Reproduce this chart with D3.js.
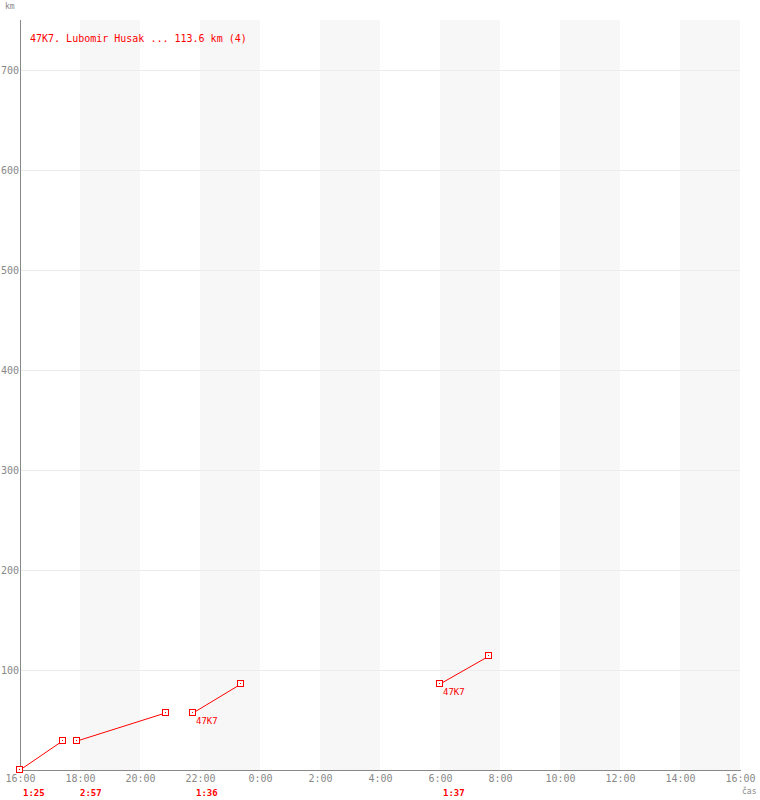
<!DOCTYPE html>
<html><head><meta charset="utf-8">
<script src="https://cdn.jsdelivr.net/npm/d3@7"></script>
<style>body{margin:0;background:#fff}svg{display:block}</style>
</head><body>
<script>
const title = "47K7. Lubomir Husak ... 113.6 km (4)";
const segStart = ["2020-01-01T16:00","2020-01-01T17:54","2020-01-01T21:46","2020-01-02T06:00"];
const segEnd   = ["2020-01-01T17:25","2020-01-01T20:51","2020-01-01T23:22","2020-01-02T07:37"];
const kmStart  = [0, 29, 57, 86];
const kmEnd    = [29, 57, 86, 113.6];
const durations = ["1:25","2:57","1:36","1:37"];
const pilotLabels = ["", "", "47K7", "47K7"];
const yTicks = [100,200,300,400,500,600,700];

const W=760,H=800, L=20, R=740, T=20, B=770;
const parse = d3.timeParse("%Y-%m-%dT%H:%M");
const t0 = parse("2020-01-01T16:00"), t1 = parse("2020-01-02T16:00");
const x = d3.scaleTime().domain([t0,t1]).range([L,R]);
const y = d3.scaleLinear().domain([0,750]).range([B,T]);
const font = "'DejaVu Sans Mono', monospace";

const svg = d3.select("body").append("svg").attr("width",W).attr("height",H);

// bands
const xTicks = d3.timeHour.every(2).range(t0, d3.timeHour.offset(t1,1));
const bandStarts = xTicks.filter((d,i)=> i%2===1 && d < t1);
svg.append("g").selectAll("rect").data(bandStarts).join("rect")
  .attr("x", d=>x(d)).attr("y", T)
  .attr("width", d=>x(d3.timeHour.offset(d,2))-x(d)).attr("height", B-T)
  .attr("fill","#f7f7f7");

// grid
svg.append("g").selectAll("line").data(yTicks).join("line")
  .attr("x1",L).attr("x2",R).attr("y1",d=>y(d)+0.5).attr("y2",d=>y(d)+0.5)
  .attr("stroke","#ececec");

// axes
const yAxis = svg.append("g").attr("transform",`translate(${L},0)`)
  .call(d3.axisLeft(y).tickValues(yTicks).tickSize(0).tickPadding(1));
yAxis.select(".domain").remove();
yAxis.selectAll("text").attr("fill","#888").style("font-family",font).style("font-size","10px");

const xAxis = svg.append("g").attr("transform",`translate(0,${B})`)
  .call(d3.axisBottom(x).tickValues(xTicks.filter(d=>d<=t1)).tickFormat(d3.timeFormat("%-H:%M")).tickSize(0).tickPadding(5));
xAxis.select(".domain").remove();
xAxis.selectAll("text").attr("fill","#888").style("font-family",font).style("font-size","10px");

svg.append("line").attr("x1",L+0.5).attr("x2",L+0.5).attr("y1",T).attr("y2",B+1).attr("stroke","#888");
svg.append("line").attr("x1",L).attr("x2",R+1).attr("y1",B+0.5).attr("y2",B+0.5).attr("stroke","#888");

svg.append("text").attr("x",5).attr("y",9).text("km").attr("fill","#888")
  .style("font-family",font).style("font-size","8px");
svg.append("text").attr("x",742).attr("y",794).text("čas").attr("fill","#888")
  .style("font-family",font).style("font-size","8px");

svg.append("text").attr("x",30).attr("y",42).text(title).attr("fill","#f00")
  .style("font-family",font).style("font-size","10px");

// segments
const segs = segStart.map((s,i)=>({s:parse(s), e:parse(segEnd[i]), k0:kmStart[i], k1:kmEnd[i], dur:durations[i], lab:pilotLabels[i]}));
const g = svg.append("g");
g.selectAll("line.seg").data(segs).join("line").attr("class","seg")
  .attr("x1",d=>x(d.s)).attr("y1",d=>y(d.k0)).attr("x2",d=>x(d.e)).attr("y2",d=>y(d.k1))
  .attr("stroke","#f00").attr("stroke-width",1);
const pts = segs.flatMap(d=>[[d.s,d.k0],[d.e,d.k1]]);
g.selectAll("rect.m").data(pts).join("rect").attr("class","m")
  .attr("x",d=>Math.round(x(d[0]))-3.5).attr("y",d=>Math.round(y(d[1]))-3.5)
  .attr("width",6).attr("height",6).attr("fill","#fff").attr("stroke","#f00").attr("stroke-width",1);
g.selectAll("rect.c").data(pts).join("rect").attr("class","c")
  .attr("x",d=>Math.round(x(d[0]))-1).attr("y",d=>Math.round(y(d[1]))-1)
  .attr("width",1).attr("height",1).attr("fill","#f00");
g.selectAll("text.dur").data(segs).join("text").attr("class","dur")
  .attr("x",d=>x(d.s)+3).attr("y",796).text(d=>d.dur).attr("fill","#f00")
  .style("font-family",font).style("font-size","9px").style("font-weight","bold");
g.selectAll("text.lab").data(segs.filter(d=>d.lab)).join("text").attr("class","lab")
  .attr("x",d=>x(d.s)+3).attr("y",d=>y(d.k0)+11).text(d=>d.lab).attr("fill","#f00")
  .style("font-family",font).style("font-size","9px");
</script>
</body></html>
